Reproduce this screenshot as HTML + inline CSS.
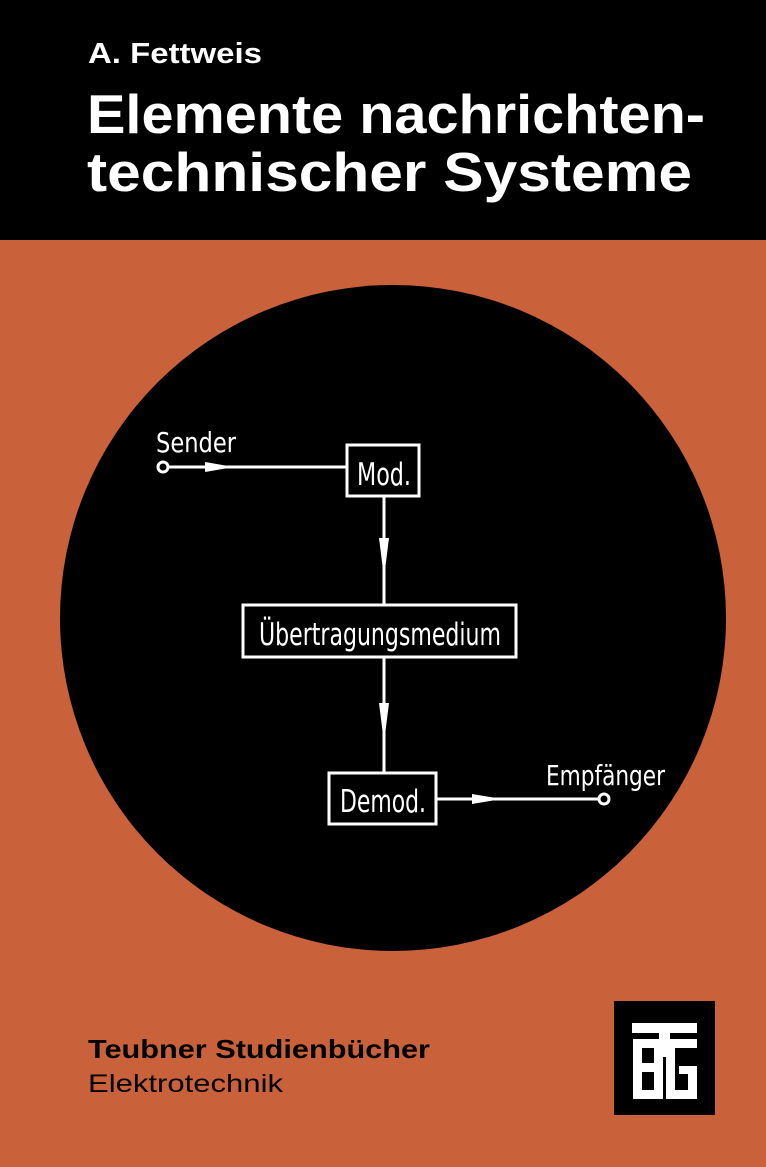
<!DOCTYPE html>
<html><head><meta charset="utf-8"><style>
html,body{margin:0;padding:0;background:#c9613a;}
svg{display:block}
</style></head><body>
<svg width="766" height="1167" viewBox="0 0 766 1167" xmlns="http://www.w3.org/2000/svg">
<rect x="0" y="0" width="766" height="1167" fill="#c9613a"/>
<rect x="0" y="0" width="766" height="240" fill="#000"/>
<g font-family="Liberation Sans, sans-serif" font-weight="bold" fill="#fff">
<text x="88" y="63" font-size="29" textLength="174" lengthAdjust="spacingAndGlyphs">A. Fettweis</text>
<text x="87" y="133" font-size="55" textLength="618" lengthAdjust="spacingAndGlyphs">Elemente nachrichten-</text>
<text x="87" y="191" font-size="55" textLength="605" lengthAdjust="spacingAndGlyphs">technischer Systeme</text>
</g>
<circle cx="393" cy="618" r="333" fill="#000"/>
<g stroke="#fff" stroke-width="3" fill="none">
<line x1="168" y1="467" x2="346" y2="467"/>
<circle cx="163" cy="467" r="5"/>
<rect x="347" y="445" width="72" height="51"/>
<line x1="384" y1="497" x2="384" y2="604"/>
<rect x="243" y="605" width="273" height="52"/>
<line x1="384" y1="658" x2="384" y2="772"/>
<rect x="329" y="773" width="107" height="51"/>
<line x1="437" y1="799" x2="599" y2="799"/>
<circle cx="604" cy="799" r="5"/>
</g>
<g fill="#fff">
<polygon points="205,462 234,467 205,472"/>
<polygon points="379,538 389,538 384,578"/>
<polygon points="379,703 389,703 384,743"/>
<polygon points="472,794 502,799 472,804"/>
</g>
<g font-family="DejaVu Sans Condensed, DejaVu Sans, Liberation Sans, sans-serif" fill="#fff">
<text x="156" y="452" font-size="28" textLength="80" lengthAdjust="spacingAndGlyphs">Sender</text>
<text x="357" y="485" font-size="31" textLength="54" lengthAdjust="spacingAndGlyphs">Mod.</text>
<text x="259" y="645" font-size="31" textLength="242" lengthAdjust="spacingAndGlyphs">Übertragungsmedium</text>
<text x="340" y="812" font-size="31" textLength="86" lengthAdjust="spacingAndGlyphs">Demod.</text>
<text x="546" y="785" font-size="28" textLength="119" lengthAdjust="spacingAndGlyphs">Empfänger</text>
</g>
<g font-family="Liberation Sans, sans-serif" fill="#000">
<text x="88" y="1058" font-size="26" font-weight="bold" textLength="342" lengthAdjust="spacingAndGlyphs">Teubner Studienbücher</text>
<text x="88" y="1092" font-size="25" textLength="195" lengthAdjust="spacingAndGlyphs">Elektrotechnik</text>
</g>
<rect x="614" y="1001" width="101" height="114" fill="#000"/>
<g fill="#fff">
<rect x="632" y="1023" width="65" height="10"/>
<rect x="659" y="1023" width="11" height="34"/>
<rect x="633" y="1039" width="64" height="9"/>
<rect x="633" y="1039" width="9" height="60"/>
<rect x="633" y="1063" width="30" height="9"/>
<rect x="633" y="1090" width="30" height="9"/>
<rect x="654" y="1048" width="9" height="51"/>
<rect x="666" y="1048" width="9" height="51"/>
<rect x="666" y="1090" width="31" height="9"/>
<rect x="688" y="1066" width="9" height="33"/>
<rect x="679" y="1066" width="18" height="8"/>
</g>
</svg>
</body></html>
